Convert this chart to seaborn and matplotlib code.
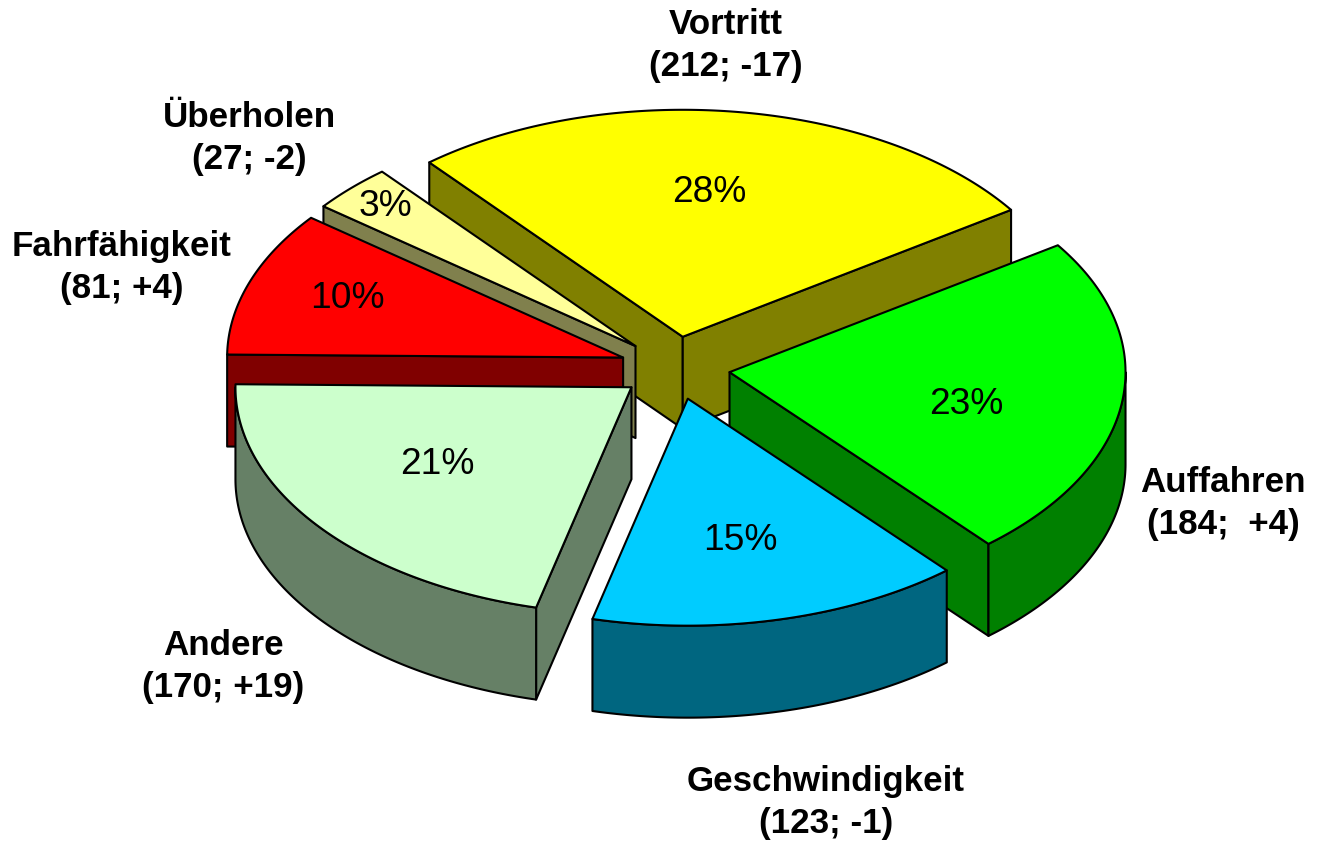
import numpy as np
import seaborn as sns
import matplotlib.pyplot as plt
from matplotlib.patches import Polygon

# slices in drawing order round the pie, clockwise
names = ['Vortritt', 'Auffahren', 'Geschwindigkeit', 'Andere', 'Fahrfähigkeit', 'Überholen']
# sizes as measured off the slice angles, close to the counts in the labels
sizes = [212, 184, 121.2, 170, 82.4, 27]
changes = ['(212; -17)', '(184;  +4)', '(123; -1)', '(170; +19)', '(81; +4)', '(27; -2)']
percents = ['28%', '23%', '15%', '21%', '10%', '3%']

top_colors = ['#FFFF00', '#00FF00', '#00CCFF', '#CCFFCC', '#FF0000', '#FFFF99']
side_colors = ['#808000', '#008000', '#006680', '#668066', '#800000', '#80804D']

# geometry of the fake 3d pie, in pixels
cx, cy = 675, 368
rx, ry = 396, 227
depth = 92
explode = 55
start_angle = 129.8

# back to front
draw_order = [0, 5, 4, 1, 3, 2]

name_pos = [(726, 45.5), (1223, 503.5), (826, 802.5), (223, 666.5), (122, 267.5), (249, 138.5)]
pct_pos = [(709, 192), (966, 404), (740, 540), (437, 465), (347, 299), (385, 207)]

sns.set_style('white')
plt.rcParams['font.family'] = ['Liberation Sans', 'DejaVu Sans']

fig = plt.figure(figsize=(13.24, 8.43), dpi=100)
ax = fig.add_axes([0, 0, 1, 1])
ax.set_xlim(0, 1324)
ax.set_ylim(843, 0)
ax.axis('off')

sweeps = np.array(sizes) / sum(sizes) * 360
starts = start_angle - np.concatenate([[0], np.cumsum(sweeps)[:-1]])


def point(a, ox, oy):
    t = np.radians(a)
    return ox + rx * np.cos(t), oy - ry * np.sin(t)


def arc(a0, a1, ox, oy):
    ang = np.linspace(a0, a1, 120)
    t = np.radians(ang)
    return np.column_stack([ox + rx * np.cos(t), oy - ry * np.sin(t)])


def face(ax, pts, color, z):
    ax.add_patch(Polygon(pts, closed=True, facecolor=color, edgecolor='black',
                         linewidth=1.5, joinstyle='round', zorder=z))


z = 1
for i in draw_order:
    a0 = starts[i]
    a1 = a0 - sweeps[i]
    mid = np.radians((a0 + a1) / 2)
    ox = cx + explode * np.cos(mid)
    oy = cy - explode * ry / rx * np.sin(mid)

    # straight walls, only those turned to the viewer
    for a, normal in [(a0, a0 + 90), (a1, a1 - 90)]:
        if np.sin(np.radians(normal)) < 0:
            x, y = point(a, ox, oy)
            face(ax, [(ox, oy), (x, y), (x, y + depth), (ox, oy + depth)], side_colors[i], z)
            z += 1

    # outer wall, the part of the arc on the front half (-180 to 0 degrees)
    front_hi, front_lo = min(a0, 0), max(a1, -180)
    if front_hi > front_lo:
        edge = arc(front_hi, front_lo, ox, oy)
        lower = edge[::-1] + [0, depth]
        face(ax, np.vstack([edge, lower]), side_colors[i], z)
        z += 1

    # top of the slice
    face(ax, np.vstack([[ox, oy], arc(a0, a1, ox, oy)]), top_colors[i], z)
    z += 1

for i in range(len(names)):
    x, y = name_pos[i]
    ax.text(x, y, names[i] + '\n' + changes[i], ha='center', va='center', fontsize=25.2,
            fontweight='bold', color='black', linespacing=1.38, zorder=100)
    x, y = pct_pos[i]
    ax.text(x, y, percents[i], ha='center', va='center', fontsize=26.7, color='black', zorder=100)

fig.savefig('out.png', dpi=100, facecolor='white')
